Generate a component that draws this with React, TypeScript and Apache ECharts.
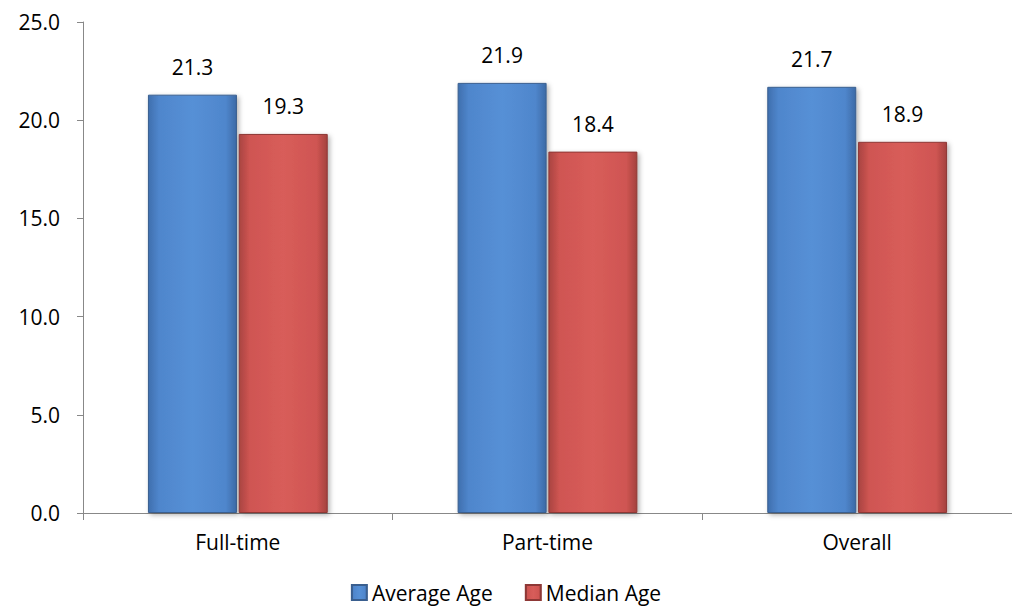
import React, { useEffect, useRef } from "react";
import * as echarts from "echarts";

const categories = ["Full-time", "Part-time", "Overall"];
const averageAge = [21.3, 21.9, 21.7];
const medianAge = [19.3, 18.4, 18.9];
const yTicks = { min: 0, max: 25, interval: 5 };

const FONT = "'Open Sans', sans-serif";

export default function App() {
  const ref = useRef<HTMLDivElement>(null);
  useEffect(() => {
    document.body.style.margin = "0";
    const chart = echarts.init(ref.current!, null, { renderer: "svg" });
    const blueGrad = new echarts.graphic.LinearGradient(0, 0, 1, 0, [
      { offset: 0, color: "#3f6fae" },
      { offset: 0.12, color: "#4f86cc" },
      { offset: 0.5, color: "#5690d6" },
      { offset: 0.88, color: "#4f86cc" },
      { offset: 1, color: "#3c6aa6" },
    ]);
    const redGrad = new echarts.graphic.LinearGradient(0, 0, 1, 0, [
      { offset: 0, color: "#a94441" },
      { offset: 0.12, color: "#cf5552" },
      { offset: 0.5, color: "#d85d5a" },
      { offset: 0.88, color: "#cf5552" },
      { offset: 1, color: "#a4413e" },
    ]);
    const label = {
      show: true,
      position: "top",
      distance: 17,
      fontFamily: FONT,
      fontSize: 21,
      color: "#000",
      formatter: (p: any) => p.value.toFixed(1),
    };
    chart.setOption({
      animation: false,
      grid: { left: 83, top: 22, width: 942, height: 491 },
      legend: {
        top: 577,
        left: "center",
        itemWidth: 15,
        itemHeight: 15,
        itemGap: 32,
        icon: "rect",
        textStyle: { fontFamily: FONT, fontSize: 21, color: "#000" },
        data: ["Average Age", "Median Age"],
      },
      xAxis: {
        type: "category",
        data: categories,
        axisLine: { lineStyle: { color: "#888", width: 1 } },
        axisTick: { show: true, length: 7, lineStyle: { color: "#888" } },
        axisLabel: { fontFamily: FONT, fontSize: 21, color: "#000", margin: 18 },
      },
      yAxis: {
        type: "value",
        min: yTicks.min,
        max: yTicks.max,
        interval: yTicks.interval,
        splitLine: { show: false },
        axisLine: { show: true, lineStyle: { color: "#888" } },
        axisTick: { show: true, length: 6, lineStyle: { color: "#888" } },
        axisLabel: {
          fontFamily: FONT,
          fontSize: 21,
          color: "#000",
          margin: 23,
          formatter: (v: number) => v.toFixed(1),
        },
      },
      series: [
        {
          name: "Average Age",
          type: "bar",
          data: averageAge,
          barWidth: 89,
          barGap: "2%",
          itemStyle: {
            color: blueGrad,
            borderColor: "#3a5f8f",
            borderWidth: 1,
            shadowColor: "rgba(0,0,0,0.3)",
            shadowBlur: 5,
            shadowOffsetX: 2,
            shadowOffsetY: 2,
          },
          label,
        },
        {
          name: "Median Age",
          type: "bar",
          data: medianAge,
          barWidth: 89,
          itemStyle: {
            color: redGrad,
            borderColor: "#8e3836",
            borderWidth: 1,
            shadowColor: "rgba(0,0,0,0.3)",
            shadowBlur: 5,
            shadowOffsetX: 2,
            shadowOffsetY: 2,
          },
          label,
        },
      ],
    });
    return () => chart.dispose();
  }, []);
  return <div ref={ref} style={{ width: 1012, height: 612 }} />;
}
